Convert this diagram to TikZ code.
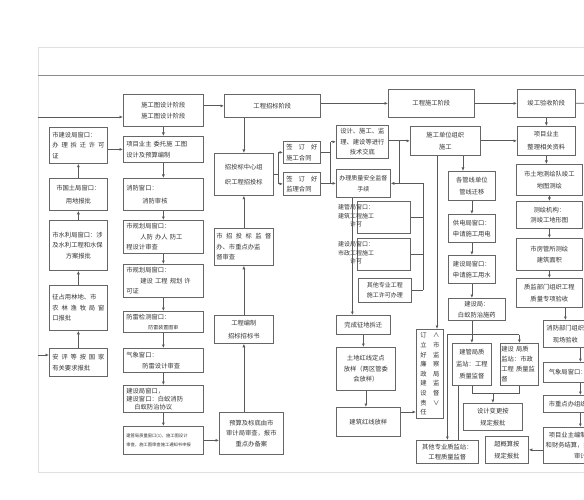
\documentclass[tikz,border=0pt]{standalone}
\usepackage{fontspec}
\newfontfamily\cjk{Noto Sans CJK SC}
\usetikzlibrary{arrows.meta,calc}
\newcommand\fs[2]{\fontsize{#1}{#2}\selectfont}
\newcommand\bx[7][]{\node[box,anchor=north west,minimum width={#5-#3},minimum height={#6-#4},#1] (#2) at (#3,#4) {#7};}
\begin{document}
\begin{tikzpicture}[x=1pt,y=-1pt,
  box/.style={draw=black!60,line width=0.75pt,inner sep=1pt,align=center,font=\cjk\fs{6.3}{10.5},text=black!80},
  ptxt/.style={font=\cjk\fs{6}{8.5},text=black!80,align=center,inner sep=0pt},
  arr/.style={draw=black!65,line width=0.75pt,-{Latex[length=3.5pt,width=3pt]}},
  ln/.style={draw=black!65,line width=0.75pt}]
\useasboundingbox (0,0) rectangle (584,500);
\draw[black!12,line width=0.8pt] (38,47) rectangle (600,472);
\draw[black!45,line width=1pt] (38,76) -- (600,76);

% column 1
\bx[align=left,text width=52pt]{c1a}{49}{127}{107}{163}{市建设局窗口：\\办\hfill 理\hfill 拆\hfill 迁\hfill 许\hfill 可\\证}
\bx{c1b}{49}{178}{107}{210}{市国土局窗口：\\[2pt]用地报批}
\bx[align=left,text width=52pt]{c1c}{49}{220}{107}{270}{市水利局窗口：涉\\及水利工程和水保\\\hfill 方案报批\hfill\null}
\bx[align=left,text width=52pt]{c1d}{49}{285}{107}{330}{征占用林地、市\\农\hfill 林\hfill 渔\hfill 牧\hfill 局\hfill 窗\\口报批}
\bx[align=left,text width=52pt]{c1e}{49}{348}{107}{376}{安\hfill 评\hfill 等\hfill 按\hfill 国\hfill 家\\有关要求报批}

% column 2
\bx{c2a}{123}{94}{203}{126}{施工图设计阶段\\施工图设计阶段}
\bx[align=left,text width=74pt]{c2b}{123}{136}{203}{162}{项目业主\ 委托施\ 工图\\设计及预算编制}
\bx[align=left,text width=74pt]{c2c}{123}{178}{203}{210}{消防窗口：\\[2pt]\hspace*{16pt}消防审核}
\bx[align=left,text width=74pt]{c2d}{123}{220}{203}{253}{市规划局窗口：\\\hspace*{14pt}人防\ 办人\ 防工\\程设计审查}
\bx[align=left,text width=74pt]{c2e}{123}{264}{203}{297}{市规划局窗口：\\\hspace*{14pt}建设\ 工程\ 规划\ 许\\可证}
\bx[align=left,text width=74pt]{c2f}{123}{311}{203}{332}{防雷检测窗口：\\\hfill{\fs{5}{7}防雷装置图审}\hfill\null}
\bx[align=left,text width=74pt]{c2g}{123}{348}{203}{372}{气象窗口：\\\hspace*{16pt}防雷设计审查}
\bx[align=left,text width=74pt,font=\cjk\fs{6.3}{8}]{c2h}{123}{385}{203}{412}{建设局窗口，\\建设窗口：白蚁消防\\\hspace*{8pt}白蚁防治协议}
\bx[align=left,text width=74pt,font=\cjk\fs{4.3}{9}]{c2i}{123}{426}{203}{454}{建管局质量窗口(1)，施工图设计\\审查，施工图审查施工通知书申报}

% column 3
\bx{c3a}{224}{94}{320}{117}{工程招标阶段}
\bx{c3b}{214}{153}{273}{195}{招投标中心组\\[4pt]织工程招投标}
\bx[align=left,text width=55pt]{c3c}{214}{228}{273}{265}{市\hfill 招\hfill 投\hfill 标\hfill 监\hfill 督\\办、市重点办监\\督审查}
\bx{c3d}{214}{315}{273}{343}{工程编制\\[3pt]招标招标书}
\bx{c3e}{219}{412}{283}{454}{预算及标底由市\\审计局审查，报市\\重点办备案}
\bx[align=left,text width=31pt]{s1}{283}{141}{320}{163}{签\hfill 订\hfill 好\\施工合同}
\bx[align=left,text width=31pt]{s2}{283}{172}{320}{195}{签\hfill 订\hfill 好\\监理合同}

% column 4
\bx{c4a}{336}{125}{388}{158}{设计、施工、监\\理、建设等进行\\技术交底}
\bx[font=\cjk\fs{6}{11}]{c4b}{336}{169}{390}{197}{办理质量安全监督\\手续}
\bx{p1}{357}{201}{410}{233}{}
\bx{p2}{357}{238}{410}{270}{}
\node[ptxt] (t1) at (356,216) {建管局窗口：\\建筑工程施工\\许可};
\node[ptxt] (t2) at (356,253) {建设局窗口：\\市政工程施工\\许可};
\bx[font=\cjk\fs{6}{9.5}]{p3}{358}{278}{411}{302}{其他专业工程\\施工许可办理}
\bx{c4c}{336}{315}{390}{334}{完成征地拆迁}
\bx{c4d}{336}{347}{395}{390}{土地红线定点\\放样（两区管委\\会放样）}
\bx{c4e}{336}{407}{400}{436}{建筑红线放样}
\bx[font=\cjk\fs{6.3}{9.6}]{c4f}{416}{329}{443}{418}{订\quad ∧\\立\quad 市\\好\quad 监\\廉\quad 察\\政\quad 局\\建\quad 监\\设\quad 督\\责\quad ∨\\任\quad\phantom{任}}

% column 5
\bx{c5top}{388}{89}{474}{117}{工程施工阶段}
\bx{c5a}{410}{126}{480}{155}{施工单位组织\\[2pt]施工}
\bx{c5b}{448}{171}{495}{200}{各管线单位\\[2pt]管线迁移}
\bx{c5c}{448}{214}{495}{242}{供电局窗口：\\[1pt]申请施工用电}
\bx{c5d}{448}{255}{495}{283}{建设局窗口：\\[1pt]申请施工用水}
\bx{c5e}{448}{298}{505}{320}{建设局：\\白蚁防治施药}
\bx[font=\cjk\fs{6.3}{12}]{c5f}{452}{343}{491}{385}{建管局质\\监站：工程\\质量监督}
\bx[align=left,text width=36pt,font=\cjk\fs{6.3}{10}]{c5g}{500}{343}{538}{385}{建设\ 局质\\监站：市政\\工程\ 质量监\\督}
\bx{c5h}{463}{403}{522}{430}{设计变更按\\[1pt]规定报批}
\bx{c5i}{416}{440}{478}{463}{其他专业质监站：\\工程质量监督}
\bx{c5j}{485}{436}{528}{463}{超概算按\\[1pt]规定报批}

% column 6
\bx{c6top}{517}{89}{575}{117}{竣工验收阶段}
\bx{c6a}{517}{126}{575}{155}{项目业主\\[2pt]整理相关资料}
\bx{c6b}{516}{164}{582}{195}{市土地测绘队竣工\\[1pt]地图测绘}
\bx{c6c}{516}{201}{582}{228}{测绘机构：\\测竣工地形图}
\bx{c6d}{516}{238}{582}{270}{市房管所测绘\\[1pt]建筑面积}
\bx{c6e}{516}{278}{582}{307}{质监部门组织工程\\[1pt]质量专项验收}
\bx{c6f}{543}{320}{587}{347}{消防部门组织\\[1pt]现场验收}
\bx{c6g}{543}{362}{617}{382}{气象局窗口：防雷验收}
\bx{c6h}{543}{395}{617}{412}{市重点办组织竣工验收}
\bx{c6i}{543}{427}{617}{463}{项目业主编制竣工决算\\和财务结算，报市审计局\\审计}

% connectors: inputs and top flow
\coordinate (in1) at (38,117);
\draw[arr] (in1) -- (in1 -| c2a.west);
\coordinate (in2) at (38,355);
\draw[arr] (in2) -- (in2 -| c1e.west);
\draw[arr] (c3a.west -| c2a.east) -- (c3a.west);
\draw[arr] (c5top.west -| c3a.east) -- (c5top.west);
\draw[arr] (c5top.east) -- (c6top.west);
\coordinate (out1) at (600,103);
\draw[ln] (c6top.east) -- (out1);

% column 2 chain
\foreach \a/\b in {c2a/c2b,c2b/c2c,c2c/c2d,c2d/c2e,c2e/c2f,c2f/c2g,c2g/c2h,c2h/c2i}
  \draw[arr] (\a.south) -- (\b.north);
% column 1 upward chain
\foreach \a/\b in {c1e/c1d,c1d/c1c,c1c/c1b,c1b/c1a}
  \draw[arr] (\a.north) -- (\b.south);
\draw[arr] (c2b.west -| c1a.east) -- (c2b.west);
\draw[arr] (c2i.east) -- (c2i.east -| c3e.west);

% column 3
\draw[arr] (c3b.north |- c3a.south) -- (c3b.north);
\draw[arr] (c3c.north) -- (c3b.south);
\draw[arr] (c3d.north) -- (c3c.south);
\draw[arr] (c3d.south |- c3e.north) -- (c3d.south);
\draw[ln] (c3b.east) -- ++(5,0) coordinate (b1);
\draw[ln] (b1 |- s1.west) -- (b1 |- s2.west);
\draw[arr] (b1 |- s1.west) -- (s1.west);
\draw[arr] (b1 |- s2.west) -- (s2.west);
\draw[ln] (s1.east) -- ++(10,0) coordinate (b2);
\draw[ln] (s2.east) -- ++(10,0);
\draw[ln] (b2 |- c4a.west) -- (b2 |- c4b.west);
\draw[arr] (b2 |- c4a.west) -- (c4a.west);
\draw[arr] (b2 |- c4b.west) -- (c4b.west);

% column 4
\draw[arr] (c5a.west -| c4a.east) -- (c5a.west);
\coordinate (j1) at ($(c4a.east |- c5a.west)!0.5!(c5a.west)$);
\draw[arr] (j1) -- (j1 |- c4b.east) -- (c4b.east);
\draw[ln] (j1 |- c4b.east) -- ++(24,0) coordinate (j2);
\draw[ln] (j2) -- (j2 |- p3.east);
\draw[ln] (p1.east -| j2) -- (p1.east);
\draw[ln] (p2.east -| j2) -- (p2.east);
\draw[ln] (p3.east -| j2) -- (p3.east);
\coordinate (k0) at ($(c4b.south)+(-11,0)$);
\draw[arr] (k0) -- (k0 |- c4c.north);
\draw[arr] (c4c.south) -- (c4c.south |- c4d.north);
\draw[arr] (c4d.south) -- (c4d.south |- c4e.north);
\coordinate (k1) at ($(c4e.north east)+(0,5)$);
\draw[arr] (k1) -- (k1 -| c4f.west);

% column 5
\coordinate (k2) at ($(c5a.south west)+(27,0)$);
\draw[arr] (k2) -- (k2 |- c4f.north);
\coordinate (k3) at ($(c5a.south west)+(53,0)$);
\draw[arr] (k3) -- (k3 |- c5b.north);
\draw[arr] (c5b.south) -- (c5c.north);
\draw[arr] (c5c.south) -- (c5d.north);
\draw[arr] (c5d.south) -- (c5d.south |- c5e.north);
\draw[ln] (c5d.south |- c5e.south) -- ++(0,14) coordinate (h1);
\draw[ln] (c5i.north |- h1) -- (c5g.north |- h1);
\draw[arr] (c5f.north |- h1) -- (c5f.north);
\draw[arr] (c5g.north |- h1) -- (c5g.north);
\draw[arr] (c5i.north |- h1) -- (c5i.north);
\coordinate (h2) at ($(c5f.south)+(0,8)$);
\draw[ln] (c5f.south) -- (h2) -- (h2 -| c5g.south) -- (c5g.south);
\draw[arr] (h2 -| c5h.north) -- (c5h.north);
\coordinate (k4) at ($(c5f.south west)+(6,0)$);
\draw[ln] (k4) -- (k4 |- c5i.north);
\draw[arr] (c5a.east |- c6a.west) -- (c6a.west);

% column 6
\draw[arr] (c6top.south) -- (c6a.north);
\draw[arr] (c6a.south) -- (c6a.south |- c6b.north);
\draw[arr] (c6b.south) -- (c6c.north);
\draw[arr] (c6c.south) -- (c6d.north);
\draw[arr] (c6d.south) -- (c6e.north);
\draw[arr] (c6f.north |- c6e.south) -- (c6f.north);
\draw[arr] (c6g.north |- c6f.south) -- (c6g.north);
\draw[arr] (c6g.south) -- (c6h.north);
\draw[arr] (c6h.south) -- (c6i.north);
\draw[arr] (c6i.west |- c5j.east) -- (c5j.east);
\end{tikzpicture}
\end{document}
